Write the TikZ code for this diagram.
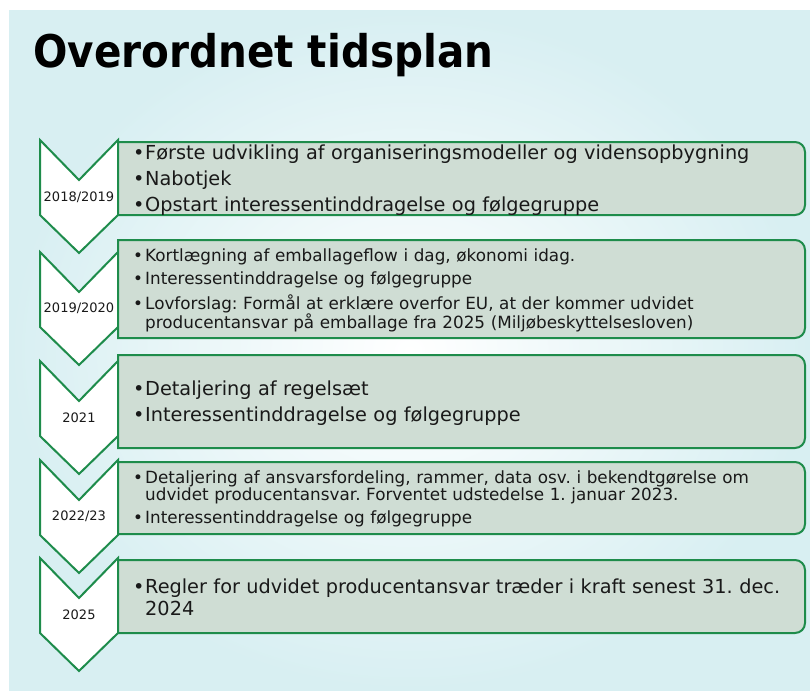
\documentclass[tikz,border=0pt]{standalone}
\usepackage{fontspec}
\setmainfont{DejaVu Sans}
\newfontfamily\titlefont[FakeStretch=0.9]{DejaVu Sans}
\definecolor{chevgreen}{RGB}{30,140,75}
\definecolor{boxfill}{RGB}{207,221,212}
\definecolor{bgblue}{RGB}{216,239,242}
\definecolor{textdark}{RGB}{25,25,25}
\frenchspacing
\newcommand\planitem[1]{\par\hangindent=12pt\hangafter=1\noindent\makebox[12pt][l]{\textbullet}#1\par}

\begin{document}
\begin{tikzpicture}[x=1pt,y=-1pt,
    chevron/.style={draw=chevgreen, fill=white, line width=2pt, line join=miter},
    planbox/.style={draw=chevgreen, fill=boxfill, line width=2pt},
    yearlabel/.style={inner sep=0pt, text=textdark, font=\fontsize{13}{15}\selectfont},
    planbig/.style={anchor=west, inner sep=0pt, text width=680pt, align=left, text=textdark,
      font=\fontsize{19.3}{22}\selectfont, execute at begin node={\setlength{\parskip}{4pt}}},
    plansmall/.style={anchor=west, inner sep=0pt, text width=680pt, align=left, text=textdark,
      font=\fontsize{16.8}{16}\selectfont, execute at begin node={\setlength{\parskip}{5.5pt}}}]
  \useasboundingbox (0,0) rectangle (810,693);
  % Background
  \shade[inner color=white, outer color=bgblue] (9,11) rectangle (810,690);
  % Title
  \node[anchor=base west, inner sep=0pt, text=black,
    font=\titlefont\bfseries\fontsize{45}{50}\selectfont] (title) at (33,67) {Overordnet tidsplan};

  % Chevrons
  \draw[chevron] (40,140) -- (79,180) -- (118,140) -- (118,215) -- (79,253) -- (40,215) -- cycle;
  \draw[chevron] (40,252) -- (79,292) -- (118,252) -- (118,327) -- (79,365) -- (40,327) -- cycle;
  \draw[chevron] (40,361) -- (79,401) -- (118,361) -- (118,436) -- (79,474) -- (40,436) -- cycle;
  \draw[chevron] (40,460) -- (79,500) -- (118,460) -- (118,535) -- (79,573) -- (40,535) -- cycle;
  \draw[chevron] (40,558) -- (79,598) -- (118,558) -- (118,633) -- (79,671) -- (40,633) -- cycle;
  % Year labels
  \node[yearlabel] (y2018) at (79,197) {2018/2019};
  \node[yearlabel] (y2019) at (79,308) {2019/2020};
  \node[yearlabel] (y2021) at (79,418) {2021};
  \node[yearlabel] (y2022) at (79,516) {2022/23};
  \node[yearlabel] (y2025) at (79,615) {2025};

  % Boxes (rounded on the right side only)
  \draw[planbox] (118,142) -- (795,142) arc[start angle=-90,end angle=0,radius=10]
    -- (805,205) arc[start angle=0,end angle=90,radius=10] -- (118,215) -- cycle;
  \draw[planbox] (118,240) -- (795,240) arc[start angle=-90,end angle=0,radius=10]
    -- (805,328) arc[start angle=0,end angle=90,radius=10] -- (118,338) -- cycle;
  \draw[planbox] (118,355) -- (795,355) arc[start angle=-90,end angle=0,radius=10]
    -- (805,438) arc[start angle=0,end angle=90,radius=10] -- (118,448) -- cycle;
  \draw[planbox] (118,462) -- (795,462) arc[start angle=-90,end angle=0,radius=10]
    -- (805,524) arc[start angle=0,end angle=90,radius=10] -- (118,534) -- cycle;
  \draw[planbox] (118,560) -- (795,560) arc[start angle=-90,end angle=0,radius=10]
    -- (805,623) arc[start angle=0,end angle=90,radius=10] -- (118,633) -- cycle;

  % Box texts
  \node[planbig] (txt2018) at (133,174.5) {%
    \planitem{Første udvikling af organiseringsmodeller og vidensopbygning}%
    \planitem{Nabotjek}%
    \planitem{Opstart interessentinddragelse og følgegruppe}};
  \node[plansmall] (txt2019) at (133,286) {%
    \planitem{Kortlægning af emballageflow i dag, økonomi idag.}%
    \planitem{Interessentinddragelse og følgegruppe}%
    \planitem{Lovforslag: Formål at erklære overfor EU, at der kommer udvidet\newline
      producentansvar på emballage fra 2025 (Miljøbeskyttelsesloven)}};
  \node[planbig] (txt2021) at (133,397.5) {%
    \planitem{Detaljering af regelsæt}%
    \planitem{Interessentinddragelse og følgegruppe}};
  \node[plansmall] (txt2022) at (133,494.5) {%
    \planitem{Detaljering af ansvarsfordeling, rammer, data osv. i bekendtgørelse om\newline
      udvidet producentansvar. Forventet udstedelse 1. januar 2023.}%
    \planitem{Interessentinddragelse og følgegruppe}};
  \node[planbig] (txt2025) at (133,592) {%
    \planitem{Regler for udvidet producentansvar træder i kraft senest 31. dec.\newline
      2024}};
\end{tikzpicture}
\end{document}
